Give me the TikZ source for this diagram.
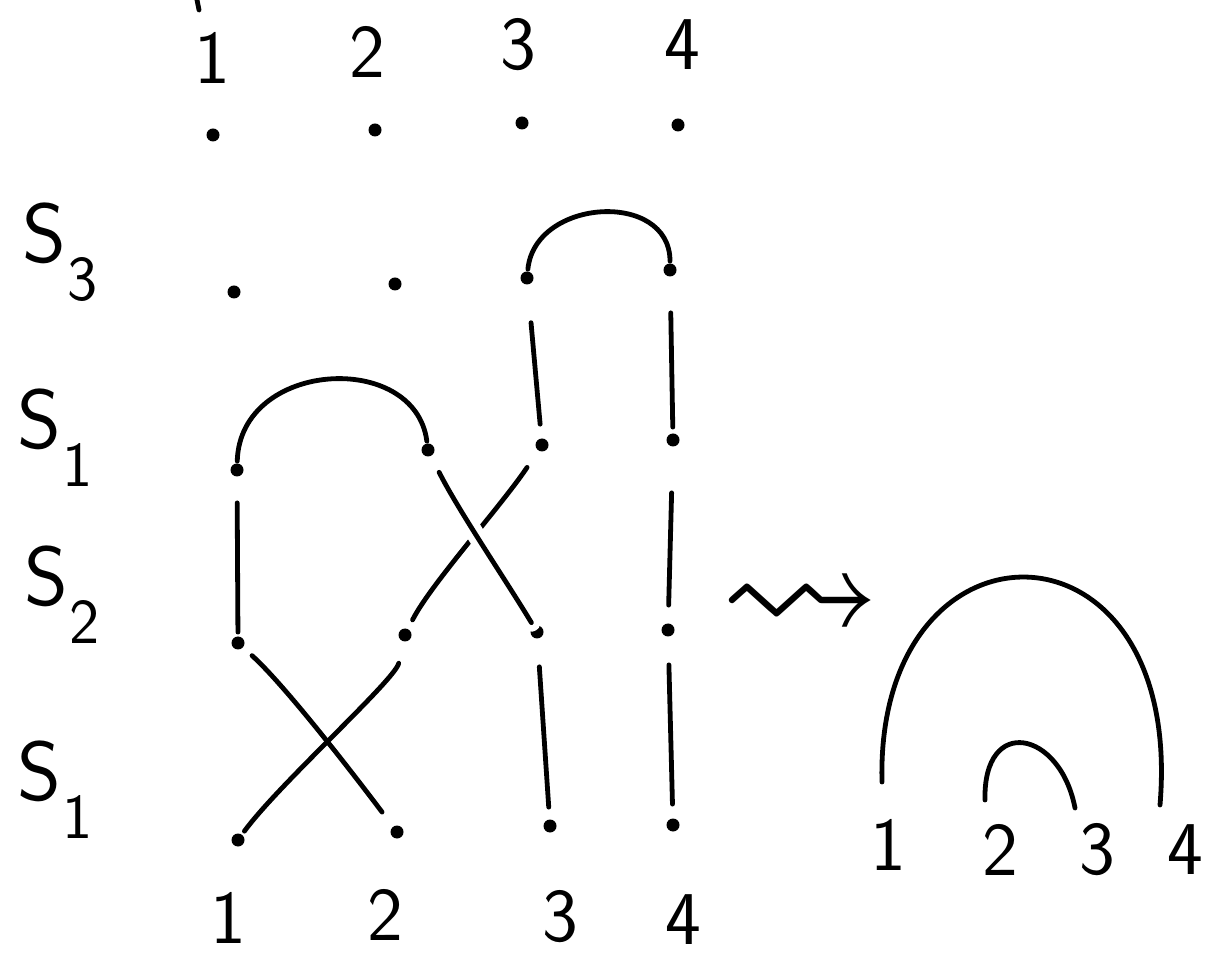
\documentclass[tikz,border=0pt]{standalone}
\usepackage{amssymb}
\newcommand{\gen}[1]{S\kern.02em\raisebox{-.45em}{\fontsize{32}{38}\selectfont #1}}

\begin{document}
\begin{tikzpicture}[
  x=0.5pt, y=-0.5pt,
  line width=2.4pt, line cap=round,
  pt/.style={circle, fill, inner sep=0pt, minimum size=6.5pt},
  num/.style={font=\sffamily\fontsize{38}{44}\selectfont},
  lbl/.style={font=\sffamily\fontsize{42}{48}\selectfont},
  gap/.style 2 args={shorten <=#1, shorten >=#2},
  over/.style={preaction={draw, white, line width=9pt}}
]
  \useasboundingbox (0,0) rectangle (1220,961);

  % top labels and dots
  \node[num] (top1) at (212,58) {1};
  \node[num] (top2) at (367,52) {2};
  \node[num] (top3) at (518,45) {3};
  \node[num] (top4) at (682,45) {4};
  \draw (197,0) -- (199,10);

  \node[pt] (t1) at (213,135) {};
  \node[pt] (t2) at (375,130) {};
  \node[pt] (t3) at (522,123) {};
  \node[pt] (t4) at (678,125) {};

  % generators
  \node[lbl] (g3) at (60,252) {\gen{3}};
  \node[lbl] (g1) at (55,438) {\gen{1}};
  \node[lbl] (g2) at (62,595) {\gen{2}};
  \node[lbl] (g1b) at (55,790) {\gen{1}};

  % rows of points
  \node[pt] (a1) at (234,292) {};
  \node[pt] (a2) at (395,284) {};
  \node[pt] (a3) at (527,278) {};
  \node[pt] (a4) at (670,270) {};

  \node[pt] (b1) at (237,470) {};
  \node[pt] (b2) at (428,450) {};
  \node[pt] (b3) at (542,445) {};
  \node[pt] (b4) at (673,440) {};

  \node[pt] (c1) at (238,643) {};
  \node[pt] (c2) at (405,635) {};
  \node[pt] (c3) at (537,632) {};
  \node[pt] (c4) at (668,630) {};

  \node[pt] (d1) at (238,840) {};
  \node[pt] (d2) at (397,832) {};
  \node[pt] (d3) at (550,826) {};
  \node[pt] (d4) at (673,825) {};

  % S_3
  \draw (a3) .. controls +(8,-80) and +(0,-80) .. (a4);
  \draw[gap={18pt}{6pt}] (a3) -- (b3);
  \draw[gap={17pt}{2pt}] (a4) -- (b4);

  % S_1
  \draw (b1) .. controls +(3,-110) and +(-13,-100) .. (b2);

  % S_2
  \draw[gap={12pt}{1pt}] (b1) -- (c1);
  \draw[gap={9pt}{4pt}] (b3) .. controls +(-40,60) and +(25,-50) .. (c2);
  \draw[over, gap={8pt}{1pt}] (b2) .. controls +(30,60) and +(-30,-50) .. (c3);
  \draw[gap={22pt}{8pt}] (b4) -- (c4);

  % S_1
  \draw[gap={5pt}{8pt}] (c1) .. controls +(50,45) and +(-30,-40) .. (d2);
  \draw[gap={10pt}{1pt}] (c2) .. controls +(-10,45) and +(40,-55) .. (d1);
  \draw[gap={13pt}{5pt}] (c3) -- (d3);
  \draw[gap={13pt}{6pt}] (c4) -- (d4);

  % bottom labels
  \node[num] (bot1) at (228,918) {1};
  \node[num] (bot2) at (385,915) {2};
  \node[num] (bot3) at (560,917) {3};
  \node[num] (bot4) at (683,920) {4};

  % result
  \node[font=\fontsize{80}{86}\selectfont] (arr) at (800,610) {$\rightsquigarrow$};

  \node[num] (r1) at (888,845) {1};
  \node[num] (r2) at (1000,850) {2};
  \node[num] (r3) at (1097,850) {3};
  \node[num] (r4) at (1185,850) {4};

  \coordinate (e1) at (882,782);
  \coordinate (e2) at (985,800);
  \coordinate (e3) at (1075,808);
  \coordinate (e4) at (1160,805);

  \draw (e1) .. controls (875,505) and (1185,505) .. (e4);
  \draw (e2) .. controls (983,715) and (1060,730) .. (e3);
\end{tikzpicture}
\end{document}
